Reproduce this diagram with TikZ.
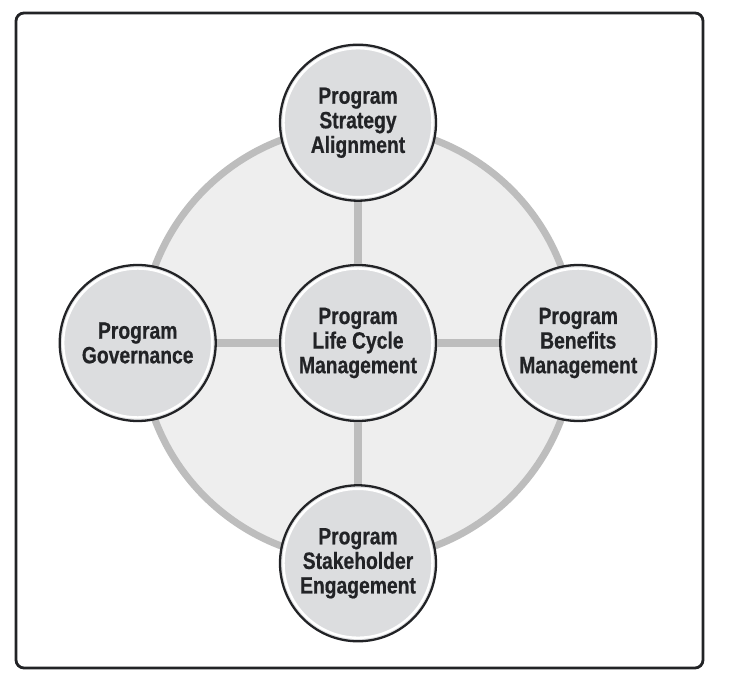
\documentclass[tikz,border=0pt]{standalone}
\usepackage{fontspec}
\setmainfont{Liberation Sans}[FakeStretch=0.82, BoldFeatures={FakeBold=0.6}]
\usetikzlibrary{positioning}
\definecolor{ringgray}{HTML}{BDBDBD}
\definecolor{discgray}{HTML}{EEEEEE}
\definecolor{ballgray}{HTML}{DCDDDF}
\definecolor{inkblack}{HTML}{222326}
\tikzset {
  every node/.style={font=\bfseries\fontsize{13.4}{14}\selectfont, text=inkblack},
  area/.style={
    circle, draw=inkblack, line width=1.3pt, fill=ballgray,
    minimum size=3.12cm, align=center, inner sep=0pt,
    path picture={\draw[white,line width=1.4pt]
      (path picture bounding box.center) circle[radius=1.49cm];}
  },
  spoke/.style={ringgray, line width=4pt},
}

\begin{document}
\begin{tikzpicture}
  \useasboundingbox (-7.16,-6.82) rectangle (7.46,6.86);
  \draw[inkblack, line width=1.6pt, rounded corners=0.16cm]
    (-6.84,-6.50) rectangle (6.90,6.60);
  \draw[ringgray, fill=discgray, line width=4pt] (0,0) circle[radius=4.34cm];
  \node[area] (life) at (0,0) {Program\\Life Cycle\\Management};
  \node[area, above=1.24cm of life] (strategy) {Program\\Strategy\\Alignment};
  \node[area, below=1.24cm of life] (stakeholder) {Program\\Stakeholder\\Engagement};
  \node[area, left=1.24cm of life] (governance) {Program\\Governance};
  \node[area, right=1.24cm of life] (benefits) {Program\\Benefits\\Management};
  \draw[spoke] (life) -- (strategy);
  \draw[spoke] (life) -- (stakeholder);
  \draw[spoke] (life) -- (governance);
  \draw[spoke] (life) -- (benefits);
\end{tikzpicture}
\end{document}
